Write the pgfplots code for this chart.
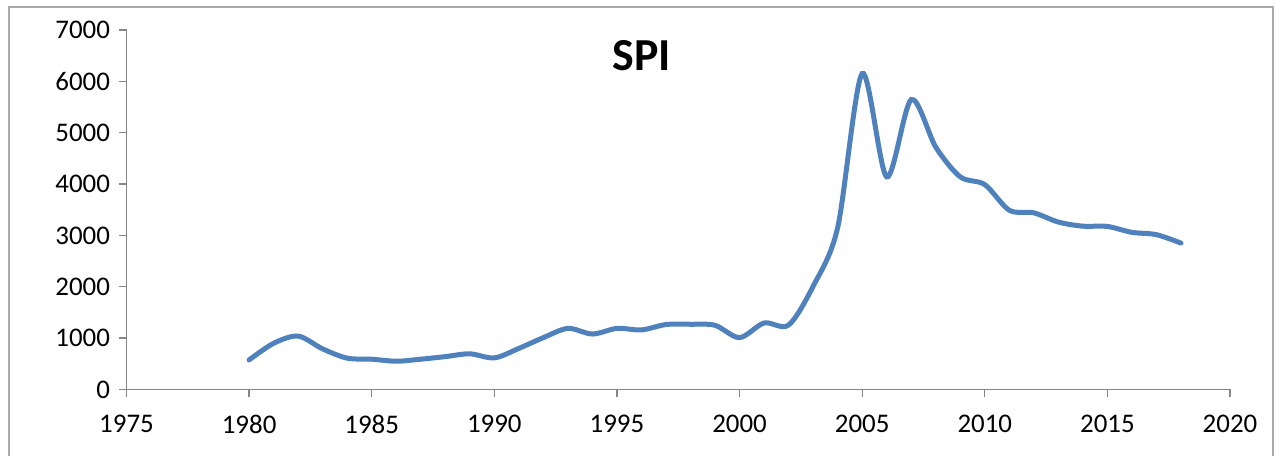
\documentclass[border=0pt]{standalone}
\usepackage{pgfplots}
\pgfplotsset{compat=1.18}
\usepackage{fontspec}
\setmainfont{Carlito}
\definecolor{lineblue}{RGB}{79,129,189}
\definecolor{axgray}{RGB}{134,134,134}
\definecolor{framegray}{RGB}{170,170,170}
\pgfplotstableread{
year value
1980 575
1981 900
1982 1040
1983 790
1984 610
1985 590
1986 550
1987 590
1988 640
1989 695
1990 615
1991 800
1992 1010
1993 1190
1994 1080
1995 1190
1996 1160
1997 1265
1998 1270
1999 1250
2000 1010
2001 1295
2002 1255
2003 2010
2004 3150
2005 6150
2006 4140
2007 5645
2008 4720
2009 4140
2010 3990
2011 3490
2012 3440
2013 3260
2014 3180
2015 3175
2016 3060
2017 3015
2018 2850
}\spidata
\begin{document}
\begin{tikzpicture}[x=1bp,y=1bp]
\useasboundingbox (0,0) rectangle (1275,456);
\draw[framegray, line width=1.5bp] (9,-20) rectangle (1273,449);
\begin{axis}[
  at={(126.5bp,66.5bp)}, anchor=origin,
  width=1103.5bp, height=359.5bp, scale only axis,
  xmin=1975, xmax=2020, ymin=0, ymax=7000,
  axis lines=left, axis line style={axgray, line width=1.3bp, -},
  xtick={1975,1980,...,2020}, ytick={0,1000,...,7000},
  tick align=outside, major tick length=8bp,
  tick style={axgray, line width=1.3bp},
  x tick label style={/pgf/number format/1000 sep={}, font=\fontsize{27}{29}\selectfont, yshift=-14bp},
  y tick label style={/pgf/number format/1000 sep={}, font=\fontsize{27}{29}\selectfont, xshift=-5bp},
  /pgf/number format/assume math mode=true,
  clip=false,
]
\addplot[lineblue, line width=5bp, smooth, tension=0.5, line cap=round] table[x=year,y=value] {\spidata};
\end{axis}
\node[font=\fontsize{46}{48}\selectfont\bfseries] at (642,400) {SPI};
\end{tikzpicture}
\end{document}
